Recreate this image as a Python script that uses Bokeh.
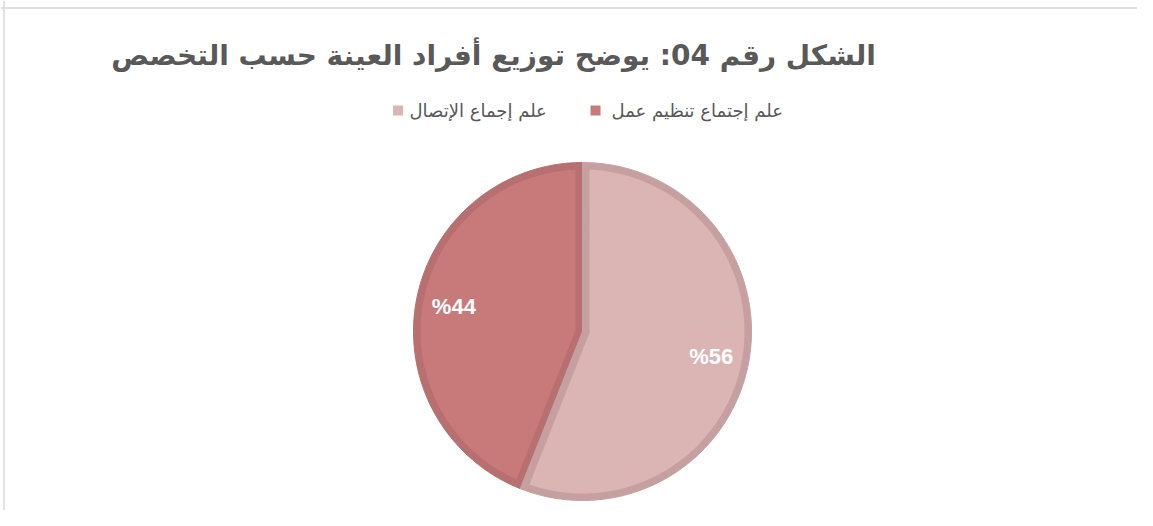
import numpy as np
from bokeh.plotting import figure
from bokeh.models import Range1d, Span
from bokeh.core.properties import value
from bokeh.embed import file_html
from bokeh.resources import INLINE

# ---- data ----
title_text = "الشكل رقم 04: يوضح توزيع أفراد العينة حسب التخصص"
categories = ["علم إجتماع تنظيم عمل", "علم إجماع الإتصال"]
values = [44, 56]
fill_colors = ["#C87A7A", "#DBB4B4"]
edge_colors = ["#B76F6F", "#C6A0A0"]

# ---- layout (screen-like coordinates, y down) ----
W, H = 1137, 510
CX, CY, R, D = 582, 331, 169, 7

p = figure(width=W, height=H, x_range=Range1d(0, W), y_range=Range1d(H, 0),
           output_backend="svg", toolbar_location=None, min_border=0)
p.axis.visible = False
p.grid.visible = False
p.outline_line_color = None
p.background_fill_color = "white"
p.border_fill_color = "white"

p.add_layout(Span(location=7.5, dimension="width", line_color="#D9D9D9", line_width=1.5))
p.add_layout(Span(location=3.5, dimension="height", line_color="#D9D9D9", line_width=1.5))

vals = np.array(values, dtype=float)
fracs = vals / vals.sum()
ends = np.cumsum(fracs) * 2 * np.pi
starts = ends - fracs * 2 * np.pi

def pt(theta, r):
    return CX - r * np.sin(theta), CY - r * np.cos(theta)

outer_xs, outer_ys, inner_xs, inner_ys = [], [], [], []
lab_x, lab_y, lab_t = [], [], []
for a0, a1, v in zip(starts, ends, values):
    th = np.linspace(a0, a1, 200)
    x, y = pt(th, R)
    outer_xs.append([CX] + list(x))
    outer_ys.append([CY] + list(y))
    dl = np.arcsin(D / (R - D))
    th2 = np.linspace(a0 + dl, a1 - dl, 200)
    x2, y2 = pt(th2, R - D)
    mid = (a0 + a1) / 2
    t = D / np.sin((a1 - a0) / 2)
    cx2, cy2 = pt(mid, t)
    inner_xs.append([cx2] + list(x2))
    inner_ys.append([cy2] + list(y2))
    lx, ly = pt(mid, 0.775 * R)
    lab_x.append(lx); lab_y.append(ly); lab_t.append("%" + str(v))

p.patches(outer_xs, outer_ys, fill_color=edge_colors, line_color=edge_colors, line_width=1)
p.patches(inner_xs, inner_ys, fill_color=fill_colors, line_color=None)

p.text(lab_x, lab_y, text=lab_t, text_color="white", text_font=value("Liberation Sans"),
       text_font_style="bold", text_font_size="22px", text_align="center", text_baseline="middle")

# title
p.text([493], [55], text=["\u202b" + title_text + "\u202c"], text_color="#595959",
       text_font=value("DejaVu Sans"), text_font_style="bold", text_font_size="28px",
       text_align="center", text_baseline="middle")

# legend (right-to-left order)
leg_sq_x = [595, 397.5]
leg_tx = [611, 409]
leg_y = 110
p.rect(leg_sq_x, [leg_y, leg_y], width=10, height=10, fill_color=fill_colors, line_color=None)
p.text(leg_tx, [leg_y, leg_y], text=categories, text_color="#595959",
       text_font=value("DejaVu Sans"), text_font_size="18px",
       text_align="left", text_baseline="middle")

open("out.html", "w").write(file_html(p, INLINE))
